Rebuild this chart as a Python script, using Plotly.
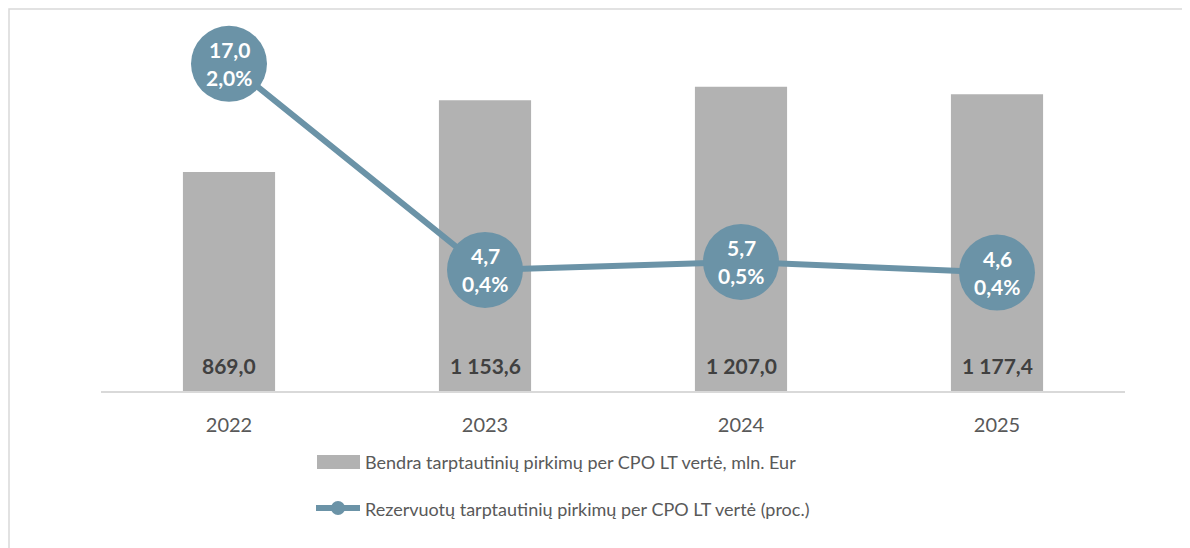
import plotly.graph_objects as go

years = ["2022", "2023", "2024", "2025"]
total_mln_eur = [869.0, 1153.6, 1207.0, 1177.4]
reserved_mln_eur = [17.0, 4.7, 5.7, 4.6]
reserved_share_pct = [1.96, 0.41, 0.47, 0.39]

bar_name = "Bendra tarptautinių pirkimų per CPO LT vertė, mln. Eur"
line_name = "Rezervuotų tarptautinių pirkimų per CPO LT vertė (proc.)"

BAR_COLOR = "#b2b2b2"
LINE_COLOR = "#6b93a7"
TEXT_COLOR = "#595959"
FONT = "Lato"

OFF = 8  # page body margin offset
W, H = 1190 - OFF, 548 - OFF
L, T = 101 - OFF, 38 - OFF
PW = 1024
PH = 353
R = W - L - PW
B = H - T - PH


def px_x(px):
    return (px - OFF - L) / PW


def px_y(py):
    return (T + PH - (py - OFF)) / PH


def fmt(v, d=1):
    s = f"{v:,.{d}f}"
    return s.replace(",", " ").replace(".", ",")


fig = go.Figure()
fig.add_trace(go.Bar(
    x=years, y=total_mln_eur, name=bar_name,
    marker=dict(color=BAR_COLOR, line=dict(width=0)),
    showlegend=False, hoverinfo="x+y",
))
fig.add_trace(go.Scatter(
    x=years, y=reserved_share_pct, name=line_name, yaxis="y2",
    mode="lines+markers", cliponaxis=False,
    line=dict(color=LINE_COLOR, width=6),
    marker=dict(color=LINE_COLOR, size=76),
    showlegend=False,
))

annotations = []
for i, v in enumerate(total_mln_eur):
    annotations.append(dict(
        x=i, y=0, xref="x", yref="y", yanchor="bottom", yshift=11,
        text=f"<b>{fmt(v)}</b>", showarrow=False,
        font=dict(family=FONT, size=21, color="#404040"),
    ))
for i, (r, p) in enumerate(zip(reserved_mln_eur, reserved_share_pct)):
    annotations.append(dict(
        x=i, y=p, xref="x", yref="y2", yshift=14,
        text=f"<b>{fmt(r)}</b>", showarrow=False,
        font=dict(family=FONT, size=21, color="white"),
    ))
    annotations.append(dict(
        x=i, y=p, xref="x", yref="y2", yshift=-14,
        text=f"<b>{fmt(p)}%</b>", showarrow=False,
        font=dict(family=FONT, size=21, color="white"),
    ))

# legend (drawn manually to match the reference swatches)
annotations.append(dict(
    x=px_x(363), y=px_y(462), xref="paper", yref="paper",
    xanchor="left", yanchor="middle", text=bar_name, showarrow=False,
    font=dict(family=FONT, size=18, color=TEXT_COLOR),
))
annotations.append(dict(
    x=px_x(363), y=px_y(509), xref="paper", yref="paper",
    xanchor="left", yanchor="middle", text=line_name, showarrow=False,
    font=dict(family=FONT, size=18, color=TEXT_COLOR),
))

shapes = [
    # chart border
    dict(type="rect", xref="paper", yref="paper",
         x0=px_x(9), x1=px_x(1200), y0=px_y(560), y1=px_y(9),
         line=dict(color="#d9d9d9", width=1.5), fillcolor="rgba(0,0,0,0)", layer="below"),
    # legend swatches
    dict(type="rect", xref="paper", yref="paper",
         x0=px_x(317), x1=px_x(360), y0=px_y(469), y1=px_y(455),
         line=dict(width=0), fillcolor=BAR_COLOR),
    dict(type="line", xref="paper", yref="paper",
         x0=px_x(316), x1=px_x(360), y0=px_y(508), y1=px_y(508),
         line=dict(color=LINE_COLOR, width=6)),
    dict(type="circle", xref="paper", yref="paper",
         x0=px_x(331), x1=px_x(345), y0=px_y(515), y1=px_y(501),
         line=dict(width=0), fillcolor=LINE_COLOR),
]

fig.update_layout(
    width=W, height=H,
    margin=dict(l=L, r=R, t=T, b=B),
    paper_bgcolor="white", plot_bgcolor="white",
    bargap=0.64,
    font=dict(family=FONT, color=TEXT_COLOR),
    xaxis=dict(
        type="category", range=[-0.5, 3.5],
        showline=True, linecolor="#d9d9d9", linewidth=2,
        showgrid=False, zeroline=False,
        ticks="outside", ticklen=15, tickcolor="rgba(0,0,0,0)",
        tickfont=dict(family=FONT, size=20, color=TEXT_COLOR),
    ),
    yaxis=dict(range=[0, 1400], visible=False, showgrid=False, zeroline=False),
    yaxis2=dict(range=[-0.5, 2.154], overlaying="y", side="right",
                visible=False, showgrid=False, zeroline=False),
    annotations=annotations,
    shapes=shapes,
    showlegend=False,
)

fig.write_html("out.html")
